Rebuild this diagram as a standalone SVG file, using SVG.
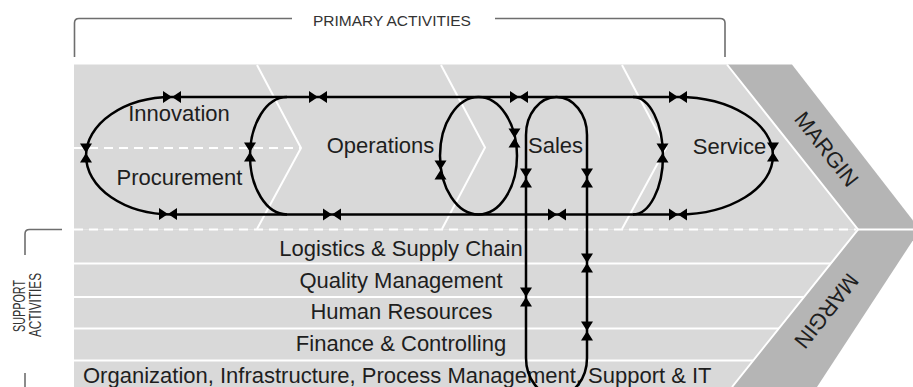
<svg xmlns="http://www.w3.org/2000/svg" xmlns:xlink="http://www.w3.org/1999/xlink" width="913" height="387" viewBox="0 0 913 387">
<style>
.lbl{font-family:"Liberation Sans",Arial,sans-serif;font-size:22px;fill:#1e1e1e}
.mid{text-anchor:middle}
.hdr{font-family:"Liberation Sans",Arial,sans-serif;font-size:15.5px;fill:#333}
.sup{font-family:"Liberation Sans",Arial,sans-serif;font-size:16px;fill:#333;text-anchor:middle}
.wl{stroke:#fff;stroke-width:2;fill:none}
.dash{stroke:#fff;stroke-width:2;fill:none;stroke-dasharray:9,6}
.brk{stroke:#6e6e6e;stroke-width:1.6;fill:none}
.con{stroke:#000;stroke-width:2.5;fill:none}
.mk{fill:#000}
</style>
<defs>
<path id="bh" d="M-9,-6 L0,0 L-9,6 Z M9,-6 L0,0 L9,6 Z"/>
<path id="bv" d="M-6,-9.5 L0,0 L6,-9.5 Z M-6,9.5 L0,0 L6,9.5 Z"/>
</defs>
<rect width="913" height="387" fill="#fff"/>
<g id="background">
<polygon points="74,64.5 727,64.5 858,229.5 74,229.5" fill="#d9d9d9"/>
<polygon points="74,229.5 858,229.5 732,387 74,387" fill="#d9d9d9"/>
<polygon points="727,64.5 792,64.5 920,229.5 858,229.5" fill="#b5b5b5"/>
<polygon points="858,229.5 920,229.5 817,387 732,387" fill="#b5b5b5"/>
<path class="wl" d="M727,64.5 L858,229.5 L732,387"/>
<path class="wl" d="M858,229.5 L913,229.5"/>
<path class="wl" d="M257,65 L301,148 L257,229"/>
<path class="wl" d="M441,65 L485,147.5 L442,229"/>
<path class="wl" d="M622,65 L666,148 L622,229"/>
<path class="dash" d="M74,148 L300,148"/>
<path class="dash" d="M74,229.5 L856,229.5"/>
<path class="wl" d="M74,263.5 L831,263.5 M74,297 L804,297 M74,328.5 L779,328.5 M74,360.5 L753,360.5"/>
</g>
<g id="primary-bracket">
<path class="brk" d="M74.5,57 L74.5,23 Q74.5,18.5 79,18.5 L292,18.5"/>
<path class="brk" d="M495,18.5 L720,18.5 Q725,18.5 725,23 L725,57"/>
<text class="hdr" x="313" y="26">PRIMARY ACTIVITIES</text>
</g>
<g id="support-bracket">
<path class="brk" d="M62,229.5 L29.5,229.5 Q25,229.5 25,234 L25,255"/>
<path class="brk" d="M25,373 L25,387"/>
<text class="sup" transform="translate(25,306) rotate(-90)" textLength="52" lengthAdjust="spacingAndGlyphs">SUPPORT</text>
<text class="sup" transform="translate(40.5,305) rotate(-90)" textLength="64" lengthAdjust="spacingAndGlyphs">ACTIVITIES</text>
</g>
<g id="margin-top"><text class="lbl mid" transform="translate(826.7,149) rotate(51.8)" y="7.8">MARGIN</text></g>
<g id="margin-bottom"><text class="lbl mid" transform="translate(826.7,311) rotate(128.5)" y="7.8">MARGIN</text></g>
<g id="innovation"><text class="lbl mid" x="179" y="121">Innovation</text></g>
<g id="procurement"><text class="lbl mid" x="179.5" y="185">Procurement</text></g>
<g id="operations"><text class="lbl mid" x="380.5" y="153">Operations</text></g>
<g id="sales"><text class="lbl mid" x="555.5" y="153">Sales</text></g>
<g id="service"><text class="lbl mid" x="729.5" y="154">Service</text></g>
<g id="logistics"><text class="lbl mid" x="401" y="256">Logistics &amp; Supply Chain</text></g>
<g id="quality"><text class="lbl mid" x="401" y="288">Quality Management</text></g>
<g id="hr"><text class="lbl mid" x="401.5" y="319">Human Resources</text></g>
<g id="finance"><text class="lbl mid" x="401" y="351">Finance &amp; Controlling</text></g>
<g id="organization"><text class="lbl" x="83" y="382.5">Organization, Infrastructure, Process Management, Support &amp; IT</text></g>
<g id="connectors">
<path class="con" d="M172,97 L678,97"/>
<path class="con" d="M172,214.5 L678,214.5"/>
<path class="con" d="M172,97 A86,58.75 0 0 0 172,214.5"/>
<path class="con" d="M287,97 A37,58.75 0 0 0 287,214.5"/>
<ellipse class="con" cx="478.5" cy="155.75" rx="38.5" ry="58.75"/>
<path class="con" d="M526,135 A30.5,38 0 0 1 587,135 L587,358 A30.5,38 0 0 1 526,358 Z"/>
<path class="con" d="M633,97 A30,58.75 0 0 1 633,214.5"/>
<path class="con" d="M678,97 A95,58.75 0 0 1 678,214.5"/>
<g class="mk">
<use xlink:href="#bh" x="172" y="97"/>
<use xlink:href="#bh" x="318" y="97"/>
<use xlink:href="#bh" x="519" y="97"/>
<use xlink:href="#bh" x="678" y="97"/>
<use xlink:href="#bh" x="168" y="214"/>
<use xlink:href="#bh" x="332" y="214.5"/>
<use xlink:href="#bh" x="557" y="214.5"/>
<use xlink:href="#bh" x="678" y="214.5"/>
<use xlink:href="#bv" x="86" y="153"/>
<use xlink:href="#bv" x="250" y="152"/>
<use xlink:href="#bv" x="440.5" y="170"/>
<use xlink:href="#bv" x="514.5" y="138"/>
<use xlink:href="#bv" x="526" y="178"/>
<use xlink:href="#bv" x="587" y="178"/>
<use xlink:href="#bv" x="662.5" y="153"/>
<use xlink:href="#bv" x="773" y="152"/>
<use xlink:href="#bv" x="526" y="297"/>
<use xlink:href="#bv" x="587" y="263"/>
<use xlink:href="#bv" x="587" y="331"/>
</g>
</g>
</svg>
